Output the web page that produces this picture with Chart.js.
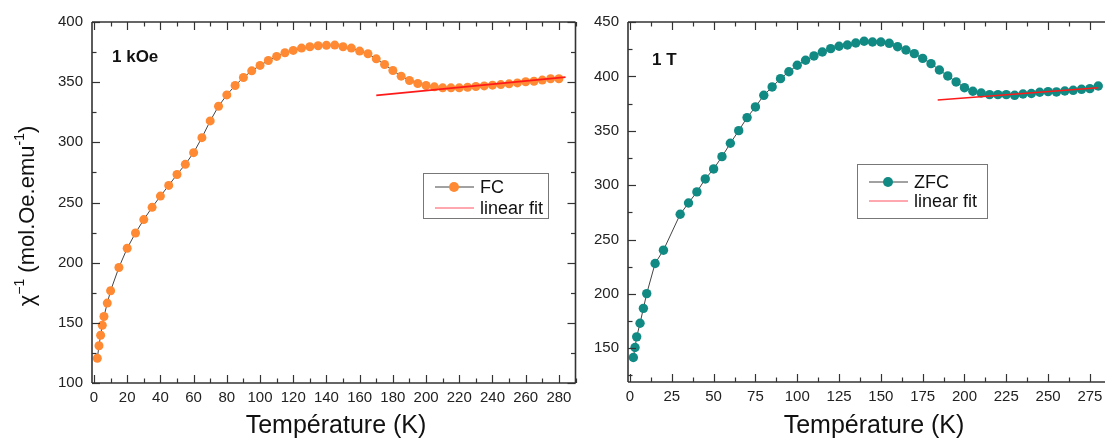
<!DOCTYPE html>
<html lang="fr">
<head>
  <meta charset="UTF-8">
  <title>Inverse susceptibility</title>
  <script src="https://cdn.jsdelivr.net/npm/chart.js"></script>
  <style>
    html, body { margin: 0; padding: 0; background: #fff; overflow: hidden; width: 1105px; height: 441px; }
    canvas { position: absolute; top: 0; }
    #chartFC { left: 0; }
    #chartZFC { left: 580px; }
  </style>
</head>
<body>
  <canvas id="chartFC" width="580" height="441"></canvas>
  <canvas id="chartZFC" width="545" height="441"></canvas>

  <script>
    // 1 kOe, field cooled
    const tempFC = [2, 3, 4, 5, 6, 8, 10, 15, 20, 25, 30, 35, 40, 45, 50, 55, 60, 65, 70, 75, 80, 85, 90, 95,
      100, 105, 110, 115, 120, 125, 130, 135, 140, 145, 150, 155, 160, 165, 170, 175, 180, 185, 190, 195,
      200, 205, 210, 215, 220, 225, 230, 235, 240, 245, 250, 255, 260, 265, 270, 275, 280];
    const chiFC = [120.6, 131, 139.7, 148, 155.3, 166.4, 176.7, 196, 212, 224.7, 235.8, 246, 255.3, 264.2, 273.3,
      281.7, 291.4, 303.9, 317.8, 330, 339.4, 347.2, 353.9, 359.4, 363.9, 368, 371.4, 374.4, 376.4, 378.3,
      379.4, 380.3, 380.6, 380.8, 379.4, 378.3, 375.8, 373.6, 369.4, 364.7, 359.7, 355, 351.4, 348.9,
      347.2, 346.1, 345.3, 345.3, 345.3, 345.8, 346.4, 346.9, 347.5, 348, 348.6, 349.4, 350.3, 350.8,
      351.7, 352.8, 352.8];
    const fitTempFC = [170, 284];
    const fitChiFC = [339, 354.2];

    // 1 T, zero field cooled
    const tempZFC = [2, 3, 4, 6, 8, 10, 15, 20, 30, 35, 40, 45, 50, 55, 60, 65, 70, 75, 80, 85, 90, 95,
      100, 105, 110, 115, 120, 125, 130, 135, 140, 145, 150, 155, 160, 165, 170, 175, 180, 185, 190, 195,
      200, 205, 210, 215, 220, 225, 230, 235, 240, 245, 250, 255, 260, 265, 270, 275, 280];
    const chiZFC = [141.5, 150.7, 160.5, 173, 186.7, 200.3, 228, 240.2, 273.2, 283.6, 293.8, 305.7, 314.9,
      326.2, 338.5, 350.1, 362.1, 371.9, 382.6, 390.3, 397.9, 404.3, 410.2, 414.8, 418.8, 422.4, 425.5,
      427.7, 428.9, 430.7, 432.3, 431.6, 431.6, 430.4, 427.3, 424.3, 420.9, 416.6, 411.7, 405.9, 400.4,
      394.9, 389.6, 386.3, 384.7, 383.2, 383.2, 383.2, 382.6, 383.8, 384.3, 385.4, 386, 385.7, 386.6,
      387.2, 388.1, 388.7, 391.2];
    const fitTempZFC = [184, 280];
    const fitChiZFC = [378.3, 389.6];

    // tick labels
    const xTicksFC = [0, 20, 40, 60, 80, 100, 120, 140, 160, 180, 200, 220, 240, 260, 280];
    const yTicksFC = [100, 150, 200, 250, 300, 350, 400];
    const xTicksZFC = [0, 25, 50, 75, 100, 125, 150, 175, 200, 225, 250, 275];
    const yTicksZFC = [150, 200, 250, 300, 350, 400, 450];

    const yTitle = [['χ', false], ['−1', true], [' (mol.Oe.emu', false], ['-1', true], [')', false]];
    const xTitle = 'Température (K)';

    Chart.defaults.font.family = '"Liberation Sans", Arial, sans-serif';
    Chart.defaults.color = '#222';

    const toPoints = (xs, ys) => xs.map((t, i) => ({ x: t, y: ys[i] }));
    const halves = (ticks, lo, hi) => {
      const step = (ticks[1] - ticks[0]) / 2;
      const out = [];
      for (let v = ticks[0] - step; v <= hi; v += step) if (v >= lo) out.push(v);
      return out;
    };

    // frame, inward ticks, legend box and texts
    const decoPlugin = {
      id: 'deco',
      afterDraw(chart, args, o) {
        const { ctx, chartArea: a } = chart;
        const sx = chart.scales.x, sy = chart.scales.y;
        ctx.save();
        ctx.strokeStyle = '#333';
        ctx.lineWidth = 1.2;
        const seg = (x1, y1, x2, y2) => { ctx.beginPath(); ctx.moveTo(x1, y1); ctx.lineTo(x2, y2); ctx.stroke(); };
        const majX = new Set(o.xTicks), majY = new Set(o.yTicks);
        halves(o.xTicks, sx.min, sx.max).forEach(v => {
          const p = Math.round(sx.getPixelForValue(v)) + 0.5;
          const len = majX.has(v) ? 8 : 4.5;
          seg(p, a.bottom, p, a.bottom - len);
          seg(p, a.top, p, a.top + len);
        });
        halves(o.yTicks, sy.min, sy.max).forEach(v => {
          const p = Math.round(sy.getPixelForValue(v)) + 0.5;
          const len = majY.has(v) ? 8 : 4.5;
          seg(a.left, p, a.left + len, p);
          if (o.rightSide) seg(a.right, p, a.right - len, p);
        });
        ctx.lineWidth = 1.6;
        seg(a.left, a.top, a.right, a.top);
        seg(a.left, a.bottom, a.right, a.bottom);
        seg(a.left, a.top, a.left, a.bottom);
        if (o.rightSide) seg(a.right, a.top, a.right, a.bottom);

        // annotation
        ctx.fillStyle = '#111';
        ctx.textBaseline = 'middle';
        ctx.font = 'bold 17px "Liberation Sans", Arial, sans-serif';
        ctx.fillText(o.label, o.labelX, o.labelY);

        // legend
        const L = o.legend;
        ctx.strokeStyle = '#777';
        ctx.lineWidth = 1;
        ctx.strokeRect(L.x + 0.5, L.y + 0.5, L.w, L.h);
        ctx.strokeStyle = '#444';
        seg(L.x + 12, L.row1, L.x + 51, L.row1);
        ctx.fillStyle = o.color;
        ctx.beginPath(); ctx.arc(L.x + 31, L.row1, 5, 0, Math.PI * 2); ctx.fill();
        ctx.strokeStyle = '#ff5060';
        seg(L.x + 12, L.row2, L.x + 51, L.row2);
        ctx.fillStyle = '#111';
        ctx.font = '18px "Liberation Sans", Arial, sans-serif';
        ctx.textAlign = 'left';
        ctx.fillText(o.series, L.x + 57, L.row1 + 1);
        ctx.fillText('linear fit', L.x + 57, L.row2 + 1);

        // x title
        ctx.font = '25px "Liberation Sans", Arial, sans-serif';
        ctx.textAlign = 'center';
        ctx.fillText(xTitle, o.xTitleX, 426);

        // y title (left panel only)
        if (o.yTitle) {
          ctx.translate(28, 216);
          ctx.rotate(-Math.PI / 2);
          const big = '22px "Liberation Sans", Arial, sans-serif';
          const small = '14px "Liberation Sans", Arial, sans-serif';
          let total = 0;
          yTitle.forEach(([t, sup]) => { ctx.font = sup ? small : big; total += ctx.measureText(t).width; });
          let cx = -total / 2;
          ctx.textAlign = 'left';
          yTitle.forEach(([t, sup]) => {
            ctx.font = sup ? small : big;
            ctx.fillText(t, cx, sup ? -8 : 0);
            cx += ctx.measureText(t).width;
          });
        }
        ctx.restore();
      }
    };

    function makeChart(id, cfg) {
      const fixTicks = list => axis => { axis.ticks = list.map(v => ({ value: v })); };
      return new Chart(document.getElementById(id), {
        type: 'scatter',
        data: {
          datasets: [
            {
              label: 'linear fit',
              data: toPoints(cfg.fitT, cfg.fitY),
              showLine: true,
              borderColor: '#ff1a1a',
              borderWidth: 1.6,
              pointRadius: 0
            },
            {
              label: cfg.series,
              data: toPoints(cfg.temps, cfg.values),
              showLine: true,
              borderColor: '#444',
              borderWidth: 1,
              pointRadius: cfg.radius,
              pointBorderWidth: 0,
              pointBackgroundColor: cfg.color
            }
          ]
        },
        options: {
          responsive: false,
          animation: false,
          devicePixelRatio: 1,
          layout: { padding: { left: 0, top: 22, right: cfg.padRight, bottom: 0 } },
          plugins: {
            legend: { display: false },
            tooltip: { enabled: false },
            deco: {
              xTicks: cfg.xTicks, yTicks: cfg.yTicks, color: cfg.color, series: cfg.series,
              label: cfg.label, labelX: cfg.labelX, labelY: cfg.labelY, rightSide: cfg.rightSide,
              legend: cfg.legend, xTitleX: cfg.xTitleX, yTitle: cfg.showYTitle
            }
          },
          scales: {
            x: {
              type: 'linear', min: -1.2, max: cfg.xMax,
              grid: { display: false, drawTicks: false },
              border: { display: false },
              ticks: { font: { size: 15 }, padding: 6, maxRotation: 0, autoSkip: false },
              afterBuildTicks: fixTicks(cfg.xTicks),
              afterFit: s => { s.height = cfg.xAxisH; s.paddingLeft = 0; s.paddingRight = 0; }
            },
            y: {
              type: 'linear', min: cfg.yMin, max: cfg.yMax,
              grid: { display: false, drawTicks: false },
              border: { display: false },
              ticks: { font: { size: 15 }, padding: 9, autoSkip: false },
              afterBuildTicks: fixTicks(cfg.yTicks),
              afterFit: s => { s.width = cfg.yAxisW; s.paddingTop = 0; s.paddingBottom = 0; }
            }
          }
        },
        plugins: [decoPlugin]
      });
    }

    makeChart('chartFC', {
      temps: tempFC, values: chiFC, fitT: fitTempFC, fitY: fitChiFC,
      xTicks: xTicksFC, yTicks: yTicksFC, xMax: 290, yMin: 100, yMax: 400,
      color: '#ff8a33', radius: 4.5, series: 'FC', label: '1 kOe', labelX: 112, labelY: 57,
      legend: { x: 423, y: 173, w: 125, h: 45, row1: 187, row2: 208 },
      xTitleX: 336, showYTitle: true, rightSide: true,
      yAxisW: 92, xAxisH: 58, padRight: 2
    });

    makeChart('chartZFC', {
      temps: tempZFC, values: chiZFC, fitT: fitTempZFC, fitY: fitChiZFC,
      xTicks: xTicksZFC, yTicks: yTicksZFC, xMax: 293, yMin: 119, yMax: 450,
      color: '#128a84', radius: 4.7, series: 'ZFC', label: '1 T', labelX: 72, labelY: 60,
      legend: { x: 277, y: 164, w: 130, h: 54, row1: 182, row2: 201 },
      xTitleX: 294, showYTitle: false, rightSide: false,
      yAxisW: 48, xAxisH: 59, padRight: 5
    });
  </script>
</body>
</html>
